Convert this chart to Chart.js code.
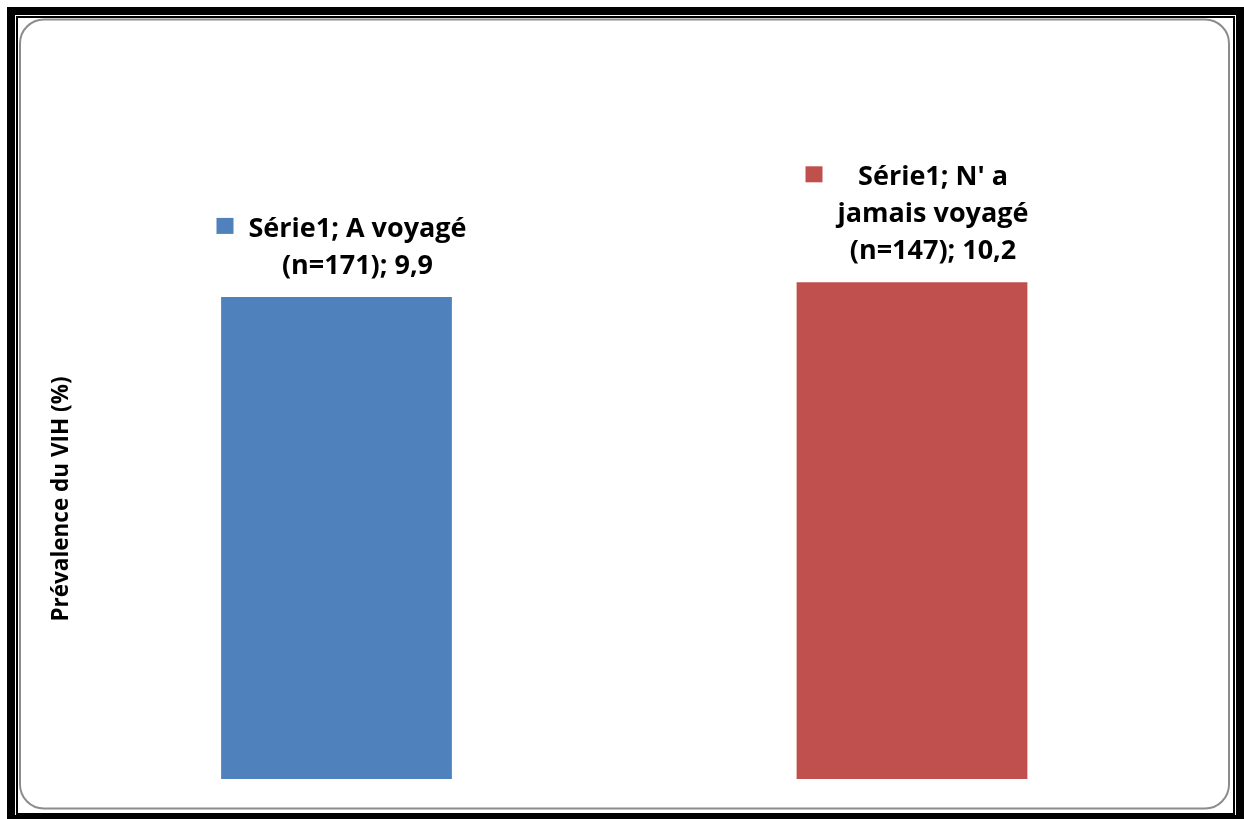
<!DOCTYPE html>
<html>
<head>
<meta charset="utf-8">
<script src="https://cdn.jsdelivr.net/npm/chart.js@4.4.0/dist/chart.umd.min.js"></script>
<style>
  html, body { margin: 0; padding: 0; background: #fff; }
  #wrap { width: 1244px; height: 819px; }
</style>
</head>
<body>
<div id="wrap"><canvas id="myChart" width="1244" height="819"></canvas></div>
<script>
const seriesName = 'Série1';
const categories = ['A voyagé', "N' a jamais voyagé"];
const sampleSizes = [171, 147];
const prevalence = [9.9, 10.2];
const barColors = ['#4F81BD', '#C0504D'];
const yTitle = 'Prévalence du VIH (%)';

const labelFont = 'bold 27px "Open Sans"';
const labelLineHeight = 37;
const labelWrapWidth = 235;

function fmt(v) {
    return String(v).replace('.', ',');
}

function wrapText(ctx, text, maxWidth) {
    var words = text.split(' ');
    var lines = [];
    var cur = '';
    words.forEach(function (w) {
        var test = cur ? cur + ' ' + w : w;
        if (cur && ctx.measureText(test).width > maxWidth) {
            lines.push(cur);
            cur = w;
        } else {
            cur = test;
        }
    });
    if (cur) lines.push(cur);
    return lines;
}

// double black frame + rounded grey chart border
const framePlugin = {
    id: 'frame',
    beforeDraw(chart) {
        var ctx = chart.ctx;
        ctx.save();
        ctx.fillStyle = '#fff';
        ctx.fillRect(0, 0, 1244, 819);
        ctx.fillStyle = '#000';
        ctx.fillRect(7, 7, 1244, 819);
        ctx.fillStyle = '#fff';
        ctx.fillRect(15, 15, 1221, 800);
        ctx.strokeStyle = '#000';
        ctx.lineWidth = 2;
        ctx.strokeRect(17, 17, 1217, 797);

        ctx.strokeStyle = '#8c8c8c';
        ctx.lineWidth = 2;
        ctx.beginPath();
        ctx.roundRect(20, 19.5, 1209, 789, 24);
        ctx.stroke();

        // y axis title
        ctx.fillStyle = '#000';
        ctx.font = 'bold 22.5px "Open Sans"';
        ctx.textAlign = 'center';
        ctx.textBaseline = 'middle';
        var ca = chart.chartArea;
        ctx.translate(62, (ca.top + ca.bottom) / 2);
        ctx.rotate(-Math.PI / 2);
        ctx.fillText(yTitle, 0, 0);
        ctx.restore();
    }
};

// data labels with legend key, drawn above each bar
const barLabelPlugin = {
    id: 'barLabels',
    afterDatasetsDraw(chart) {
        var ctx = chart.ctx;
        var meta = chart.getDatasetMeta(0);
        ctx.save();
        ctx.font = labelFont;
        ctx.fillStyle = '#000';
        ctx.textBaseline = 'alphabetic';
        meta.data.forEach(function (bar, i) {
            var text = seriesName + '; ' + categories[i] + ' (n=' + sampleSizes[i] + '); ' + fmt(prevalence[i]);
            var lines = wrapText(ctx, text, labelWrapWidth);
            var textW = 0;
            lines.forEach(function (l) { textW = Math.max(textW, ctx.measureText(l).width); });
            var total = 32 + textW;
            var left = bar.x - total / 2 + 5;
            var textCenter = left + 32 + textW / 2;
            var lastBase = bar.y - 23;
            var firstBase = lastBase - (lines.length - 1) * labelLineHeight;
            ctx.textAlign = 'center';
            lines.forEach(function (l, k) {
                ctx.fillText(l, textCenter, firstBase + k * labelLineHeight);
            });
            ctx.fillStyle = barColors[i];
            ctx.fillRect(left, firstBase - 19, 17, 16);
            ctx.fillStyle = '#000';
        });
        ctx.restore();
    }
};

var ctx = document.getElementById('myChart').getContext('2d');
var myChart = new Chart(ctx, {
    type: 'bar',
    data: {
        labels: categories,
        datasets: [{
            label: seriesName,
            data: prevalence,
            backgroundColor: barColors,
            borderWidth: 0,
            categoryPercentage: 1,
            barPercentage: 0.401
        }]
    },
    options: {
        responsive: false,
        animation: false,
        layout: {
            padding: { left: 48.75, right: 44.25, top: 219, bottom: 40 }
        },
        plugins: {
            legend: { display: false },
            tooltip: { enabled: false }
        },
        scales: {
            x: { display: false },
            y: { display: false, min: 0, max: 11.5 }
        }
    },
    plugins: [framePlugin, barLabelPlugin]
});
</script>
</body>
</html>
